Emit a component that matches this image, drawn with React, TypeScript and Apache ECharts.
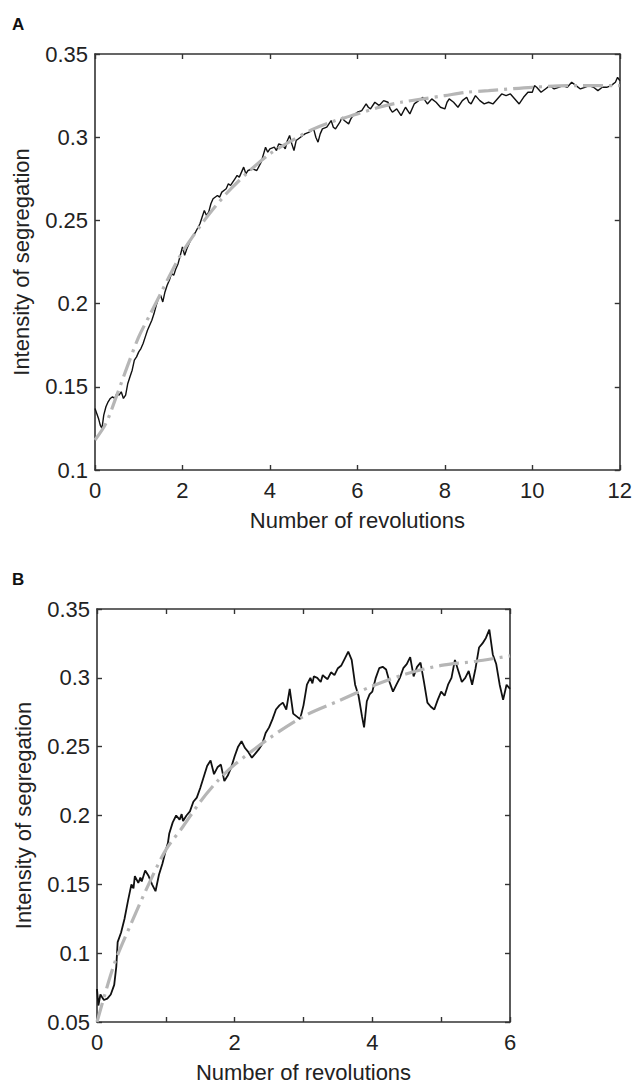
import React, { useEffect, useRef } from "react";
import * as echarts from "echarts";

// Panel A: measured intensity of segregation vs revolutions
const aMeasured: [number, number][] = [
  [0, 0.137], [0.04, 0.134], [0.08, 0.131], [0.12, 0.127], [0.16, 0.125], [0.2, 0.133], [0.25, 0.138],
  [0.3, 0.141], [0.35, 0.143], [0.4, 0.144], [0.45, 0.143], [0.5, 0.146], [0.55, 0.145], [0.6, 0.147],
  [0.65, 0.143], [0.7, 0.145], [0.75, 0.152], [0.8, 0.156], [0.85, 0.16], [0.9, 0.166], [0.95, 0.168],
  [1.0, 0.171], [1.05, 0.173], [1.1, 0.176], [1.15, 0.18], [1.2, 0.184], [1.25, 0.187], [1.3, 0.19],
  [1.35, 0.194], [1.4, 0.199], [1.45, 0.203], [1.5, 0.205], [1.55, 0.201], [1.6, 0.207], [1.65, 0.211],
  [1.7, 0.214], [1.75, 0.218], [1.8, 0.217], [1.85, 0.221], [1.9, 0.224], [1.95, 0.229], [2.0, 0.234],
  [2.05, 0.229], [2.1, 0.233], [2.15, 0.236], [2.2, 0.239], [2.3, 0.243], [2.4, 0.248], [2.45, 0.252],
  [2.5, 0.256], [2.55, 0.253], [2.6, 0.255], [2.65, 0.26], [2.7, 0.263], [2.8, 0.265], [2.85, 0.264],
  [2.9, 0.267], [3.0, 0.269], [3.05, 0.272], [3.1, 0.271], [3.2, 0.275], [3.25, 0.277], [3.3, 0.276],
  [3.35, 0.279], [3.4, 0.282], [3.45, 0.278], [3.5, 0.28], [3.6, 0.281], [3.7, 0.28], [3.8, 0.285],
  [3.9, 0.294], [3.95, 0.291], [4.0, 0.293], [4.1, 0.294], [4.15, 0.292], [4.2, 0.296], [4.3, 0.295],
  [4.35, 0.293], [4.4, 0.298], [4.45, 0.301], [4.5, 0.296], [4.55, 0.292], [4.6, 0.298], [4.7, 0.3],
  [4.8, 0.302], [4.9, 0.303], [5.0, 0.305], [5.05, 0.3], [5.1, 0.297], [5.15, 0.302], [5.2, 0.305],
  [5.3, 0.306], [5.4, 0.31], [5.45, 0.306], [5.5, 0.305], [5.6, 0.309], [5.65, 0.312], [5.7, 0.31],
  [5.8, 0.308], [5.85, 0.311], [5.9, 0.313], [6.0, 0.315], [6.1, 0.316], [6.2, 0.32], [6.25, 0.318],
  [6.3, 0.317], [6.4, 0.321], [6.5, 0.319], [6.6, 0.322], [6.7, 0.321], [6.75, 0.317], [6.8, 0.315],
  [6.9, 0.317], [7.0, 0.313], [7.1, 0.318], [7.2, 0.314], [7.3, 0.32], [7.4, 0.322], [7.5, 0.324],
  [7.55, 0.322], [7.6, 0.32], [7.7, 0.323], [7.8, 0.321], [7.9, 0.318], [8.0, 0.317], [8.05, 0.321],
  [8.1, 0.323], [8.2, 0.321], [8.3, 0.318], [8.4, 0.322], [8.5, 0.324], [8.55, 0.321], [8.6, 0.32],
  [8.7, 0.325], [8.8, 0.322], [8.9, 0.32], [9.0, 0.321], [9.1, 0.32], [9.2, 0.323], [9.3, 0.326],
  [9.4, 0.325], [9.5, 0.326], [9.6, 0.323], [9.7, 0.32], [9.75, 0.322], [9.8, 0.324], [9.9, 0.327],
  [10.0, 0.327], [10.05, 0.331], [10.1, 0.33], [10.2, 0.327], [10.3, 0.329], [10.4, 0.331], [10.5, 0.329],
  [10.6, 0.33], [10.7, 0.331], [10.8, 0.33], [10.9, 0.333], [11.0, 0.331], [11.1, 0.329], [11.2, 0.33],
  [11.3, 0.331], [11.4, 0.33], [11.5, 0.328], [11.6, 0.33], [11.7, 0.33], [11.8, 0.331], [11.9, 0.333],
  [11.95, 0.336], [12.0, 0.334],
];

// Panel A: fitted curve (grey dashed)
const aFit: [number, number][] = [
  [0, 0.118], [0.25, 0.128], [0.5, 0.145], [0.75, 0.163], [1, 0.18], [1.25, 0.193], [1.5, 0.206],
  [1.75, 0.219], [2, 0.231], [2.5, 0.25], [3, 0.266], [3.5, 0.279], [4, 0.29], [4.5, 0.298], [5, 0.305],
  [5.5, 0.31], [6, 0.314], [6.5, 0.318], [7, 0.321], [7.5, 0.323], [8, 0.325], [8.5, 0.327], [9, 0.328],
  [10, 0.33], [11, 0.331], [12, 0.331],
];

// Panel B: measured
const bMeasured: [number, number][] = [
  [0, 0.074], [0.02, 0.062], [0.05, 0.07], [0.1, 0.066], [0.15, 0.067], [0.2, 0.07], [0.25, 0.077],
  [0.28, 0.09], [0.3, 0.108], [0.35, 0.115], [0.4, 0.125], [0.45, 0.138], [0.5, 0.15], [0.53, 0.147],
  [0.55, 0.156], [0.6, 0.151], [0.63, 0.155], [0.65, 0.152], [0.7, 0.16], [0.75, 0.156], [0.8, 0.15],
  [0.85, 0.145], [0.9, 0.157], [0.95, 0.165], [1.0, 0.175], [1.03, 0.18], [1.05, 0.187], [1.1, 0.195],
  [1.15, 0.2], [1.2, 0.197], [1.23, 0.201], [1.25, 0.196], [1.3, 0.2], [1.35, 0.203], [1.4, 0.21],
  [1.45, 0.213], [1.5, 0.22], [1.55, 0.228], [1.6, 0.236], [1.65, 0.24], [1.7, 0.23], [1.75, 0.235],
  [1.8, 0.237], [1.85, 0.225], [1.9, 0.229], [1.95, 0.235], [2.0, 0.243], [2.05, 0.25], [2.1, 0.254],
  [2.15, 0.249], [2.2, 0.246], [2.25, 0.242], [2.3, 0.245], [2.35, 0.248], [2.4, 0.252], [2.45, 0.26],
  [2.5, 0.264], [2.55, 0.27], [2.6, 0.277], [2.65, 0.28], [2.7, 0.282], [2.75, 0.277], [2.8, 0.292],
  [2.85, 0.274], [2.9, 0.272], [2.95, 0.27], [3.0, 0.28], [3.05, 0.295], [3.1, 0.3], [3.13, 0.296],
  [3.15, 0.301], [3.2, 0.3], [3.25, 0.297], [3.28, 0.302], [3.3, 0.301], [3.35, 0.299], [3.4, 0.304],
  [3.45, 0.302], [3.5, 0.307], [3.55, 0.309], [3.6, 0.314], [3.65, 0.319], [3.7, 0.313], [3.75, 0.295],
  [3.8, 0.287], [3.85, 0.272], [3.88, 0.264], [3.92, 0.283], [3.96, 0.288], [4.0, 0.29], [4.05, 0.3],
  [4.1, 0.307], [4.15, 0.308], [4.2, 0.306], [4.25, 0.297], [4.3, 0.29], [4.35, 0.295], [4.4, 0.3],
  [4.45, 0.307], [4.5, 0.31], [4.55, 0.315], [4.6, 0.301], [4.65, 0.308], [4.7, 0.311], [4.75, 0.297],
  [4.8, 0.282], [4.85, 0.279], [4.9, 0.277], [4.95, 0.284], [5.0, 0.29], [5.05, 0.287], [5.1, 0.295],
  [5.15, 0.3], [5.2, 0.313], [5.25, 0.305], [5.3, 0.297], [5.35, 0.3], [5.4, 0.305], [5.45, 0.295],
  [5.5, 0.307], [5.55, 0.322], [5.6, 0.325], [5.65, 0.329], [5.7, 0.335], [5.75, 0.317], [5.8, 0.31],
  [5.85, 0.295], [5.9, 0.284], [5.95, 0.295], [6.0, 0.292],
];

// Panel B: fitted curve
const bFit: [number, number][] = [
  [0, 0.05], [0.25, 0.092], [0.5, 0.122], [0.75, 0.15], [1, 0.175], [1.25, 0.192], [1.5, 0.21],
  [1.75, 0.225], [2, 0.237], [2.5, 0.256], [3, 0.272], [3.5, 0.283], [4, 0.294], [4.5, 0.303],
  [5, 0.309], [5.5, 0.312], [6, 0.316],
];

const xTicksA = [0, 12, 2];
const yTicksA = [0.1, 0.35, 0.05];
const xTicksB = [0, 6, 1];
const yTicksB = [0.05, 0.35, 0.05];

const FONT = "Liberation Sans, Arial, Helvetica, sans-serif";
const AXIS_COLOR = "#333";

function mainX(gridIndex: number, range: number[], evenOnly: boolean) {
  return {
    type: "value",
    gridIndex,
    min: range[0],
    max: range[1],
    interval: range[2],
    name: "Number of revolutions",
    nameLocation: "middle",
    nameGap: 39,
    nameTextStyle: { fontSize: 22, color: "#222", fontFamily: FONT },
    axisLine: { show: true, onZero: false, lineStyle: { color: AXIS_COLOR, width: 1.6 } },
    axisTick: { show: true, inside: true, length: 5, lineStyle: { color: AXIS_COLOR, width: 1.4 } },
    axisLabel: {
      fontSize: 22,
      color: "#222",
      fontFamily: FONT,
      margin: 9,
      formatter: (v: number) => (evenOnly && Math.round(v) % 2 !== 0 ? "" : String(v)),
    },
    splitLine: { show: false },
  };
}

function mirrorX(gridIndex: number, range: number[]) {
  return {
    type: "value",
    gridIndex,
    position: "top",
    min: range[0],
    max: range[1],
    interval: range[2],
    axisLine: { show: true, onZero: false, lineStyle: { color: AXIS_COLOR, width: 1.6 } },
    axisTick: { show: true, inside: true, length: 5, lineStyle: { color: AXIS_COLOR, width: 1.4 } },
    axisLabel: { show: false },
    splitLine: { show: false },
  };
}

function mainY(gridIndex: number, range: number[]) {
  return {
    type: "value",
    gridIndex,
    min: range[0],
    max: range[1],
    interval: range[2],
    name: "Intensity of segregation",
    nameLocation: "middle",
    nameGap: 63,
    nameTextStyle: { fontSize: 22, color: "#222", fontFamily: FONT },
    axisLine: { show: true, onZero: false, lineStyle: { color: AXIS_COLOR, width: 1.6 } },
    axisTick: { show: true, inside: true, length: 5, lineStyle: { color: AXIS_COLOR, width: 1.4 } },
    axisLabel: { fontSize: 22, color: "#222", fontFamily: FONT, margin: 7 },
    splitLine: { show: false },
  };
}

function mirrorY(gridIndex: number, range: number[]) {
  return {
    type: "value",
    gridIndex,
    position: "right",
    min: range[0],
    max: range[1],
    interval: range[2],
    axisLine: { show: true, onZero: false, lineStyle: { color: AXIS_COLOR, width: 1.6 } },
    axisTick: { show: true, inside: true, length: 5, lineStyle: { color: AXIS_COLOR, width: 1.4 } },
    axisLabel: { show: false },
    splitLine: { show: false },
  };
}

function measuredSeries(idx: number, data: [number, number][], width: number) {
  return {
    type: "line",
    xAxisIndex: idx,
    yAxisIndex: idx,
    data,
    showSymbol: false,
    symbol: "none",
    lineStyle: { color: "#111", width },
    z: 2,
  };
}

function fitSeries(idx: number, data: [number, number][]) {
  return {
    type: "line",
    xAxisIndex: idx,
    yAxisIndex: idx,
    data,
    smooth: 0.3,
    showSymbol: false,
    symbol: "none",
    lineStyle: { color: "#b6b6b6", width: 3.2, type: [20, 6, 3, 6] },
    z: 3,
  };
}

export default function App() {
  const ref = useRef<HTMLDivElement>(null);
  useEffect(() => {
    if (!ref.current) return;
    const chart = echarts.init(ref.current, undefined, { renderer: "svg" });
    chart.setOption({
      animation: false,
      backgroundColor: "#fff",
      grid: [
        { left: 95, top: 54, width: 528, height: 416, containLabel: false },
        { left: 97, top: 609, width: 413, height: 417, containLabel: false },
      ],
      xAxis: [mainX(0, xTicksA, false), mainX(1, xTicksB, true), mirrorX(0, xTicksA), mirrorX(1, xTicksB)],
      yAxis: [mainY(0, yTicksA), mainY(1, yTicksB), mirrorY(0, yTicksA), mirrorY(1, yTicksB)],
      series: [
        measuredSeries(0, aMeasured, 1.4),
        fitSeries(0, aFit),
        measuredSeries(1, bMeasured, 1.8),
        fitSeries(1, bFit),
      ],
      graphic: [
        { type: "text", left: 12, top: 16, style: { text: "A", fontSize: 17, fontWeight: "bold", fill: "#111", fontFamily: FONT } },
        { type: "text", left: 12, top: 571, style: { text: "B", fontSize: 17, fontWeight: "bold", fill: "#111", fontFamily: FONT } },
      ],
    });
    return () => chart.dispose();
  }, []);
  return (
    <div
      ref={ref}
      style={{ position: "absolute", left: 0, top: 0, width: 635, height: 1084, background: "#fff" }}
    />
  );
}
